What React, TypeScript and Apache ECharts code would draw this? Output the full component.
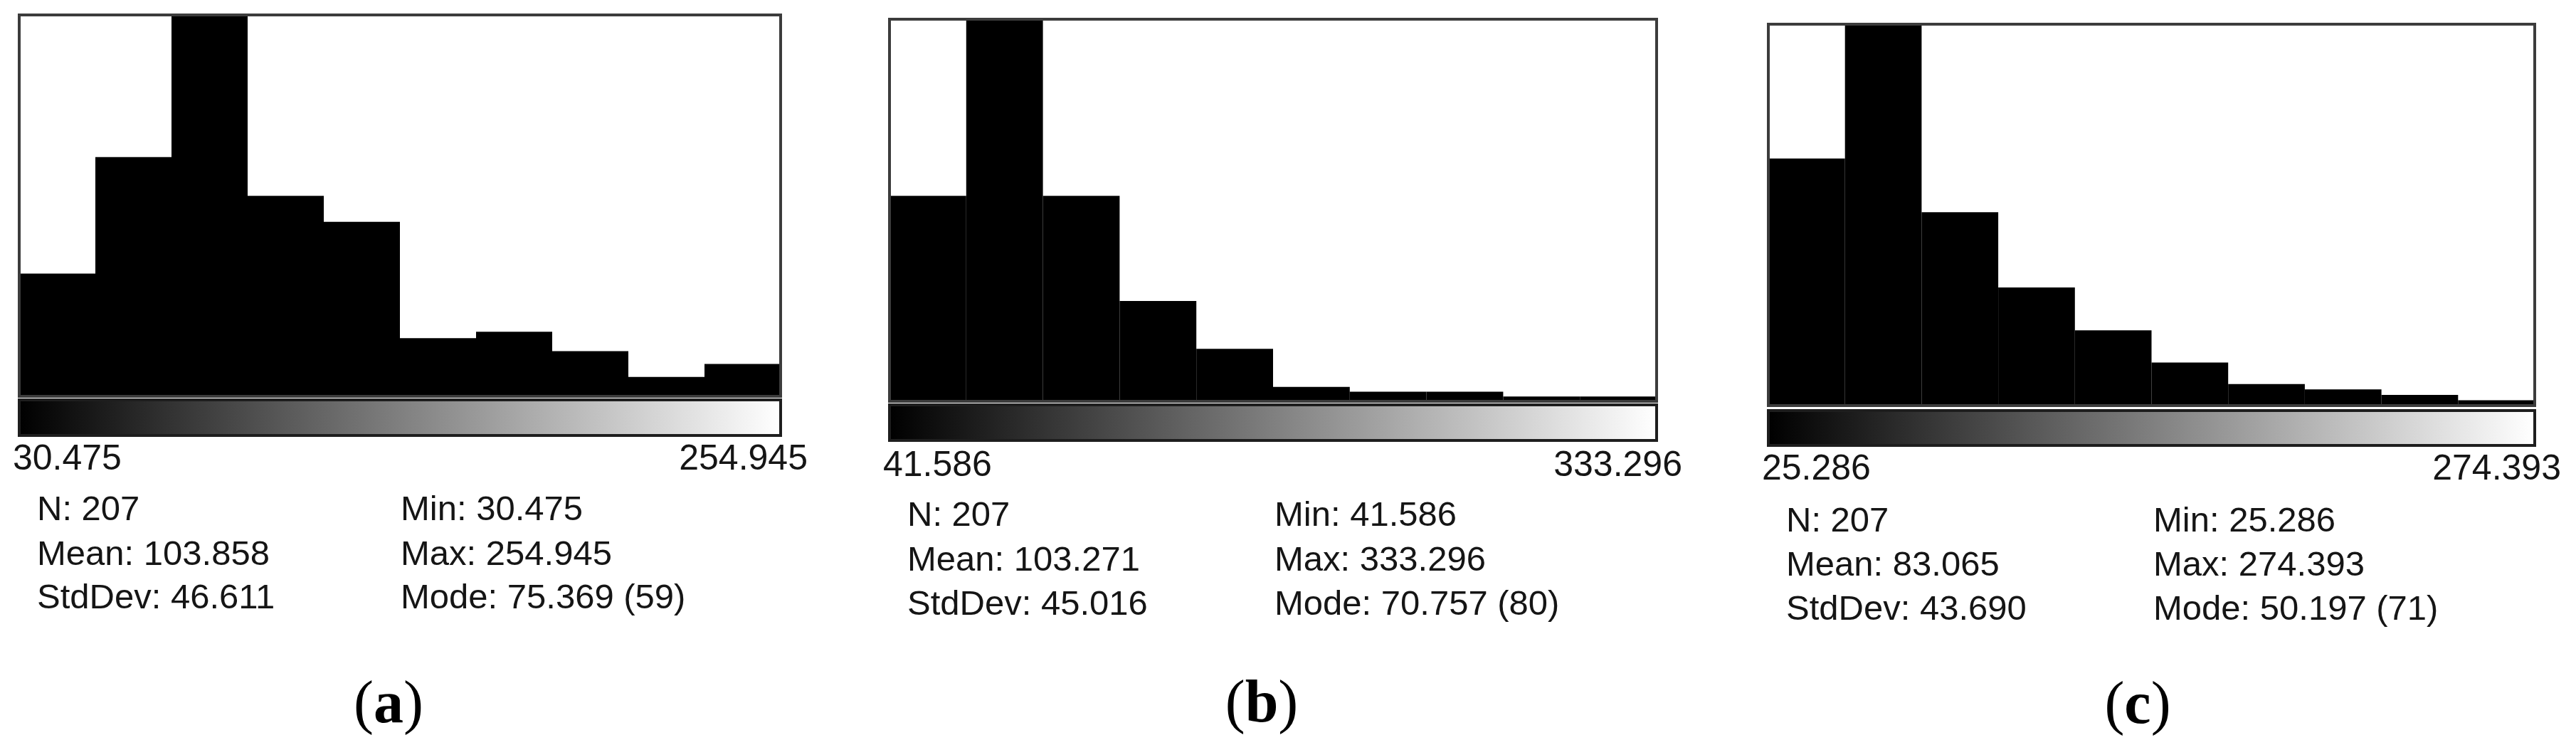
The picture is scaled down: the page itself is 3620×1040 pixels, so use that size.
import React, { useEffect, useRef } from "react";
import * as echarts from "echarts";

// ---- data ----
const binLabels = ["1", "2", "3", "4", "5", "6", "7", "8", "9", "10"];
const countsA = [19, 37, 59, 31, 27, 9, 10, 7, 3, 5];
const countsB = [43, 80, 43, 21, 11, 3, 2, 2, 1, 1];
const countsC = [46, 71, 36, 22, 14, 8, 4, 3, 2, 1];
const panelLetters = ["a", "b", "c"];
const nValues = [207, 207, 207];
const minValues = [30.475, 41.586, 25.286];
const maxValues = [254.945, 333.296, 274.393];
const meanValues = [103.858, 103.271, 83.065];
const stdDevValues = [46.611, 45.016, 43.69];
const modeValues = [75.369, 70.757, 50.197];
const modeCounts = [59, 80, 71];
const allCounts = [countsA, countsB, countsC];

// ---- layout (pixels) ----
const LAYOUT = [
  { L: 27, T: 21, W: 1070, H: 536, cbT: 562, cbH: 50, labY: 643, labL: 18, labR: 1135, rows: [714, 777, 838], c1: 52, c2: 563, capX: 546, capY: 986 },
  { L: 1250, T: 27, W: 1078, H: 537, cbT: 569, cbH: 50, labY: 652, labL: 1241, labR: 2364, rows: [722, 785, 847], c1: 1275, c2: 1791, capX: 1773, capY: 985 },
  { L: 2485, T: 34, W: 1077, H: 536, cbT: 577, cbH: 49, labY: 657, labL: 2476, labR: 3599, rows: [730, 792, 854], c1: 2510, c2: 3026, capX: 3004, capY: 987 },
];

const SANS = "'Liberation Sans', Arial, sans-serif";
const SERIF = "'Liberation Serif', 'Times New Roman', serif";
const TXT = "#151515";

export default function App() {
  const ref = useRef<HTMLDivElement>(null);
  useEffect(() => {
    document.body.style.margin = "0";
    const chart = echarts.init(ref.current!, null, { renderer: "svg" });
    const grids: any[] = [];
    const xAxes: any[] = [];
    const yAxes: any[] = [];
    const series: any[] = [];
    const graphics: any[] = [];
    LAYOUT.forEach((p, i) => {
      grids.push({ left: p.L, top: p.T, width: p.W, height: p.H, show: false });
      xAxes.push({ type: "category", gridIndex: i, data: binLabels, show: false, boundaryGap: true });
      yAxes.push({ type: "value", gridIndex: i, min: 0, max: modeCounts[i], show: false });
      series.push({
        type: "bar",
        xAxisIndex: i,
        yAxisIndex: i,
        data: allCounts[i],
        barCategoryGap: "0%",
        itemStyle: { color: "#000", borderColor: "#000", borderWidth: 2 },
        silent: true,
      });
      // frame
      graphics.push({
        type: "rect",
        shape: { x: p.L, y: p.T, width: p.W, height: p.H },
        style: { fill: "none", stroke: "#3c3c3c", lineWidth: 4 },
        z: 100,
      });
      // colour bar
      graphics.push({
        type: "rect",
        shape: { x: p.L, y: p.cbT, width: p.W, height: p.cbH },
        style: {
          fill: new echarts.graphic.LinearGradient(0, 0, 1, 0, [
            { offset: 0, color: "#000" },
            { offset: 1, color: "#fff" },
          ]),
          stroke: "#1e1e1e",
          lineWidth: 4,
        },
        z: 100,
      });
      const fmt = (v: number) => v.toFixed(3);
      graphics.push({
        type: "text",
        x: p.labL,
        y: p.labY,
        style: { text: fmt(minValues[i]), font: `50px ${SANS}`, fill: TXT, align: "left", verticalAlign: "middle" },
        z: 100,
      });
      graphics.push({
        type: "text",
        x: p.labR,
        y: p.labY,
        style: { text: fmt(maxValues[i]), font: `50px ${SANS}`, fill: TXT, align: "right", verticalAlign: "middle" },
        z: 100,
      });
      const left = [`N: ${nValues[i]}`, `Mean: ${fmt(meanValues[i])}`, `StdDev: ${fmt(stdDevValues[i])}`];
      const right = [`Min: ${fmt(minValues[i])}`, `Max: ${fmt(maxValues[i])}`, `Mode: ${fmt(modeValues[i])} (${modeCounts[i]})`];
      p.rows.forEach((ry, r) => {
        graphics.push({
          type: "text",
          x: p.c1,
          y: ry,
          style: { text: left[r], font: `49px ${SANS}`, fill: TXT, align: "left", verticalAlign: "middle" },
          z: 100,
        });
        graphics.push({
          type: "text",
          x: p.c2,
          y: ry,
          style: { text: right[r], font: `49px ${SANS}`, fill: TXT, align: "left", verticalAlign: "middle" },
          z: 100,
        });
      });
      graphics.push({
        type: "text",
        x: p.capX,
        y: p.capY,
        style: {
          text: `{p|(}{b|${panelLetters[i]}}{p|)}`,
          align: "center",
          verticalAlign: "middle",
          rich: {
            p: { fontFamily: SERIF, fontSize: 84, fontWeight: "normal", fill: "#000", color: "#000" },
            b: { fontFamily: SERIF, fontSize: 84, fontWeight: "bold", fill: "#000", color: "#000" },
          },
        },
        z: 100,
      });
    });
    chart.setOption({
      animation: false,
      backgroundColor: "#fff",
      grid: grids,
      xAxis: xAxes,
      yAxis: yAxes,
      series,
      graphic: graphics,
    });
    return () => chart.dispose();
  }, []);
  return <div ref={ref} style={{ position: "fixed", left: 0, top: 0, width: 3620, height: 1040 }} />;
}
